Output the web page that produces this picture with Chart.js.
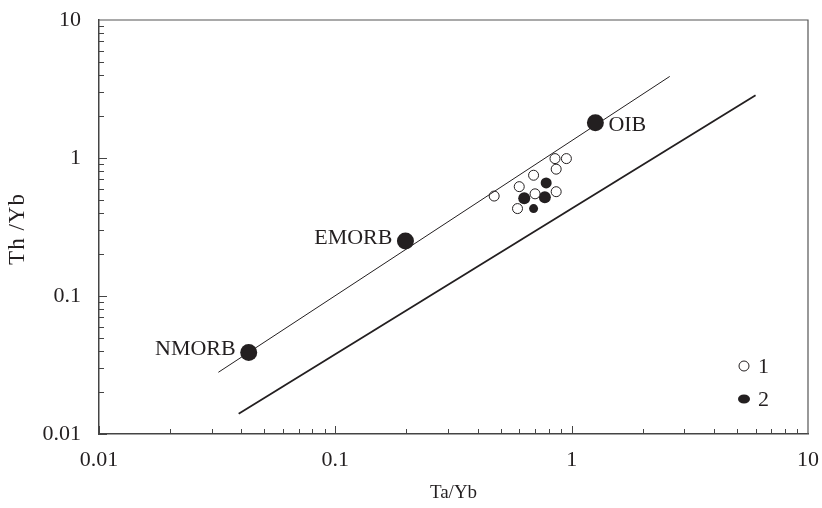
<!DOCTYPE html>
<html>
<head>
<meta charset="utf-8">
<script src="https://cdn.jsdelivr.net/npm/chart.js@4/dist/chart.umd.min.js"></script>
<style>
  html, body { margin: 0; padding: 0; background: #fff; }
  #wrap { width: 822px; height: 508px; position: relative; }
</style>
</head>
<body>
<div id="wrap"><canvas id="chartThTa"></canvas></div>
<script>
'use strict';

// Valores de referencia (NMORB, EMORB, OIB)
const refNames = ['NMORB', 'EMORB', 'OIB'];
const refTaYb  = [0.043, 0.198, 1.26];
const refThYb  = [0.039, 0.250, 1.80];

// Grupo 1 (círculos abiertos)
const g1TaYb = [0.47, 0.60, 0.69, 0.85, 0.95, 0.86, 0.70, 0.86, 0.59];
const g1ThYb = [0.53, 0.62, 0.75, 0.99, 0.99, 0.83, 0.55, 0.57, 0.43];

// Grupo 2 (círculos rellenos)
const g2TaYb = [0.78, 0.63, 0.77, 0.69];
const g2ThYb = [0.66, 0.51, 0.52, 0.43];
const g2Size = [5.5, 6, 6, 4.5];

// Líneas de tendencia del manto
const upperTaYb = [0.032, 2.6];
const upperThYb = [0.028, 3.9];
const lowerTaYb = [0.039, 6.0];
const lowerThYb = [0.014, 2.85];

const tickVals   = [0.01, 0.1, 1, 10];
const tickLabels = ['0.01', '0.1', '1', '10'];
const legendLabels = ['1', '2'];
const xTitle = 'Ta/Yb';
const yTitle = 'Th /Yb';

const INK = '#231f20';
const SERIF = "'Liberation Serif', 'Times New Roman', serif";

const toPts = (xs, ys) => xs.map((x, i) => ({ x: x, y: ys[i] }));

// Marcas de escala hacia adentro, marco, etiquetas y leyenda
const decorPlugin = {
  id: 'decor',
  afterDraw(chart) {
    const { ctx, chartArea: a, scales: { x, y } } = chart;
    ctx.save();

    // marco superior y derecho
    ctx.strokeStyle = '#555';
    ctx.lineWidth = 1.2;
    ctx.beginPath();
    ctx.moveTo(a.left, a.top);
    ctx.lineTo(a.right, a.top);
    ctx.lineTo(a.right, a.bottom);
    ctx.stroke();

    // ticks logarítmicos
    ctx.strokeStyle = '#444';
    ctx.lineWidth = 1;
    for (let d = -2; d < 1; d++) {
      for (let k = 1; k <= 9; k++) {
        const v = k * Math.pow(10, d);
        const len = k === 1 ? 8 : 5;
        const px = Math.round(x.getPixelForValue(v)) + 0.5;
        const py = Math.round(y.getPixelForValue(v)) + 0.5;
        ctx.beginPath();
        ctx.moveTo(px, a.bottom); ctx.lineTo(px, a.bottom - len);
        ctx.moveTo(a.left, py); ctx.lineTo(a.left + len, py);
        ctx.stroke();
      }
    }

    // etiquetas de los valores de referencia
    ctx.fillStyle = INK;
    ctx.font = '22px ' + SERIF;
    ctx.textBaseline = 'middle';
    refNames.forEach((name, i) => {
      const px = x.getPixelForValue(refTaYb[i]);
      const py = y.getPixelForValue(refThYb[i]);
      if (name === 'OIB') {
        ctx.textAlign = 'left';
        ctx.fillText(name, px + 13, py + 2);
      } else {
        ctx.textAlign = 'right';
        ctx.fillText(name, px - 13, py - 3);
      }
    });

    // título eje Y
    ctx.save();
    ctx.translate(18, (a.top + a.bottom) / 2 + 2);
    ctx.rotate(-Math.PI / 2);
    ctx.font = '23px ' + SERIF;
    ctx.letterSpacing = '1px';
    ctx.textAlign = 'center';
    ctx.fillText(yTitle, 0, 0);
    ctx.restore();

    // leyenda
    const lx = a.right - 64;
    const ly = [a.bottom - 68, a.bottom - 35];
    ctx.font = '22px ' + SERIF;
    ctx.textAlign = 'left';
    ctx.lineWidth = 1;
    ctx.strokeStyle = INK;
    ctx.beginPath();
    ctx.arc(lx, ly[0], 5, 0, Math.PI * 2);
    ctx.fillStyle = '#fff';
    ctx.fill();
    ctx.stroke();
    ctx.beginPath();
    ctx.ellipse(lx, ly[1], 6, 4.5, 0, 0, Math.PI * 2);
    ctx.fillStyle = INK;
    ctx.fill();
    ctx.fillText(legendLabels[0], lx + 14, ly[0] + 1);
    ctx.fillText(legendLabels[1], lx + 14, ly[1] + 1);

    ctx.restore();
  }
};

const ctx = document.getElementById('chartThTa').getContext('2d');

new Chart(ctx, {
  type: 'scatter',
  data: {
    datasets: [
      {
        label: 'upper',
        data: toPts(upperTaYb, upperThYb),
        showLine: true,
        borderColor: INK,
        borderWidth: 1,
        pointRadius: 0
      },
      {
        label: 'lower',
        data: toPts(lowerTaYb, lowerThYb),
        showLine: true,
        borderColor: INK,
        borderWidth: 1.8,
        pointRadius: 0
      },
      {
        label: 'ref',
        data: toPts(refTaYb, refThYb),
        backgroundColor: INK,
        borderColor: INK,
        borderWidth: 0,
        pointRadius: 8.5
      },
      {
        label: legendLabels[0],
        data: toPts(g1TaYb, g1ThYb),
        backgroundColor: '#fff',
        borderColor: INK,
        borderWidth: 1,
        pointRadius: 5
      },
      {
        label: legendLabels[1],
        data: toPts(g2TaYb, g2ThYb),
        backgroundColor: INK,
        borderColor: INK,
        borderWidth: 0,
        pointRadius: g2Size
      }
    ]
  },
  options: {
    responsive: true,
    maintainAspectRatio: false,
    animation: false,
    layout: { padding: { top: 20, right: 14, left: 0, bottom: 0 } },
    plugins: {
      legend: { display: false },
      tooltip: { enabled: false }
    },
    scales: {
      x: {
        type: 'logarithmic',
        min: 0.01,
        max: 10,
        grid: { display: false, drawTicks: false },
        border: { display: true, color: '#444', width: 1.5 },
        afterBuildTicks: s => { s.ticks = tickVals.map(v => ({ value: v })); },
        afterFit: s => { s.height = 74; s.paddingLeft = 0; s.paddingRight = 0; },
        ticks: {
          autoSkip: false,
          maxRotation: 0,
          padding: 13,
          color: INK,
          font: { family: SERIF, size: 22 },
          callback: v => tickLabels[tickVals.indexOf(v)] ?? ''
        },
        title: {
          display: true,
          text: xTitle,
          color: INK,
          font: { family: SERIF, size: 19 },
          padding: { top: 12 }
        }
      },
      y: {
        type: 'logarithmic',
        min: 0.01,
        max: 10,
        grid: { display: false, drawTicks: false },
        border: { display: true, color: '#444', width: 1.5 },
        afterBuildTicks: s => { s.ticks = tickVals.map(v => ({ value: v })); },
        afterFit: s => { s.width = 99; s.paddingTop = 0; s.paddingBottom = 0; },
        ticks: {
          autoSkip: false,
          padding: 18,
          color: INK,
          font: { family: SERIF, size: 22 },
          callback: v => tickLabels[tickVals.indexOf(v)] ?? ''
        }
      }
    }
  },
  plugins: [decorPlugin]
});
</script>
</body>
</html>
